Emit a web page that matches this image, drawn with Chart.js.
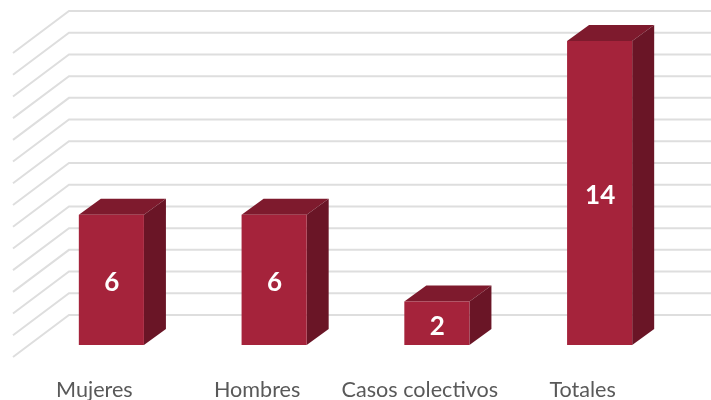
<!DOCTYPE html>
<html>
<head>
<meta charset="utf-8">
<style>
  html, body { margin: 0; padding: 0; background: #fff; }
  canvas { display: block; }
</style>
<script src="https://cdn.jsdelivr.net/npm/chart.js@4/dist/chart.umd.min.js"></script>
</head>
<body>
<canvas id="casos" width="711" height="400"></canvas>
<script>
var categorias = ['Mujeres', 'Hombres', 'Casos colectivos', 'Totales'];
var valores = [6, 6, 2, 14];
var ejeMax = 14;

// depth of the 3d walls and bars, in pixels
var pared = { izq: 13, esquina: 69, der: 711, bajo: 12, sube: 30 };
var fondo = { dx: 22, dy: 16 };

var grafico3d = {
  id: 'grafico3d',
  beforeDatasetsDraw: function (chart) {
    var c = chart.ctx, y = chart.scales.y;
    c.save();
    c.strokeStyle = '#dedede';
    c.lineWidth = 2;
    y.ticks.forEach(function (t) {
      var py = y.getPixelForValue(t.value);
      c.beginPath();
      c.moveTo(pared.izq, py + pared.bajo);
      c.lineTo(pared.esquina, py - pared.sube);
      c.lineTo(pared.der, py - pared.sube);
      c.stroke();
    });
    // top and side faces of each bar
    chart.getDatasetMeta(0).data.forEach(function (b) {
      var l = b.x - b.width / 2, r = b.x + b.width / 2;
      c.fillStyle = '#7e1a2d';
      c.beginPath();
      c.moveTo(l, b.y);
      c.lineTo(l + fondo.dx, b.y - fondo.dy);
      c.lineTo(r + fondo.dx, b.y - fondo.dy);
      c.lineTo(r, b.y);
      c.closePath();
      c.fill();
      c.fillStyle = '#6a1526';
      c.beginPath();
      c.moveTo(r, b.y);
      c.lineTo(r + fondo.dx, b.y - fondo.dy);
      c.lineTo(r + fondo.dx, b.base - fondo.dy);
      c.lineTo(r, b.base);
      c.closePath();
      c.fill();
    });
    c.restore();
  },
  afterDatasetsDraw: function (chart) {
    var c = chart.ctx;
    c.save();
    c.fillStyle = '#ffffff';
    c.font = 'bold 26px Lato';
    c.textAlign = 'center';
    c.textBaseline = 'middle';
    chart.getDatasetMeta(0).data.forEach(function (b, i) {
      c.fillText(String(valores[i]), b.x + 0.5, (b.y + b.base) / 2 + 3);
    });
    c.restore();
  }
};

var chart = new Chart(document.getElementById('casos').getContext('2d'), {
  type: 'bar',
  data: {
    labels: categorias,
    datasets: [{
      data: valores,
      backgroundColor: '#a5233b',
      barPercentage: 0.4,
      categoryPercentage: 1
    }]
  },
  options: {
    responsive: false,
    animation: false,
    layout: { padding: { left: 30, right: 30, top: 41, bottom: 0 } },
    plugins: { legend: { display: false }, tooltip: { enabled: false } },
    scales: {
      x: {
        grid: { display: false },
        border: { display: false },
        afterFit: function (s) { s.height = 55; },
        ticks: {
          color: '#595959',
          font: { family: 'Lato', size: 21.6 },
          padding: 24,
          labelOffset: -17,
          maxRotation: 0,
          autoSkip: false
        }
      },
      y: {
        min: 0,
        max: ejeMax,
        afterFit: function (s) { s.width = 0; },
        grid: { display: false },
        border: { display: false },
        ticks: { display: false, stepSize: 1 }
      }
    }
  },
  plugins: [grafico3d]
});
</script>
</body>
</html>
